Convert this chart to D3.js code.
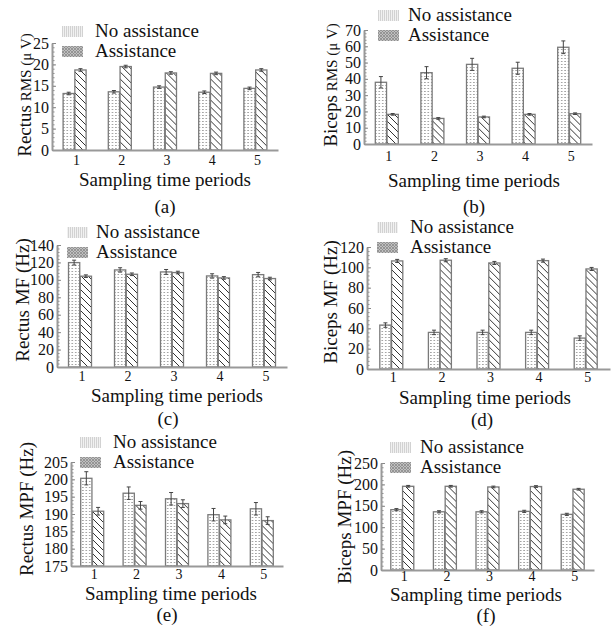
<!DOCTYPE html>
<html>
<head>
<meta charset="utf-8">
<script src="https://cdn.jsdelivr.net/npm/d3@7"></script>
<style>
  body { margin: 0; background: #fff; }
  svg text { font-family: "Liberation Serif", "Times New Roman", serif; fill: #111; }
</style>
</head>
<body>
<svg id="chart" width="614" height="633"></svg>
<script>
// Shared categories
const periods = ["1", "2", "3", "4", "5"];
const seriesNames = ["No assistance", "Assistance"];

// (a) Rectus RMS (uV)
const rectusRmsNo = [13.2, 13.6, 14.7, 13.5, 14.4];
const rectusRmsNoErr = [0.3, 0.3, 0.3, 0.3, 0.3];
const rectusRmsAs = [18.7, 19.5, 18.0, 17.9, 18.7];
const rectusRmsAsErr = [0.3, 0.3, 0.3, 0.3, 0.3];
const rectusRmsTicks = [0, 5, 10, 15, 20, 25];

// (b) Biceps RMS (uV)
const bicepsRmsNo = [37.9, 43.8, 48.9, 46.5, 59.4];
const bicepsRmsNoErr = [3.5, 3.7, 3.7, 3.7, 3.9];
const bicepsRmsAs = [18.2, 15.7, 16.6, 18.2, 18.6];
const bicepsRmsAsErr = [0.5, 0.5, 0.5, 0.5, 0.5];
const bicepsRmsTicks = [0, 10, 20, 30, 40, 50, 60, 70];

// (c) Rectus MF (Hz)
const rectusMfNo = [119.8, 111.4, 109.1, 104.5, 106.0];
const rectusMfNoErr = [2.8, 2.5, 2.8, 2.5, 2.5];
const rectusMfAs = [104.2, 106.4, 108.4, 102.2, 101.5];
const rectusMfAsErr = [1.5, 1.5, 1.5, 1.5, 1.5];
const rectusMfTicks = [0, 20, 40, 60, 80, 100, 120, 140];

// (d) Biceps MF (Hz)
const bicepsMfNo = [43.2, 36.0, 36.0, 36.0, 30.4];
const bicepsMfNoErr = [2.2, 2.2, 2.2, 2.2, 2.2];
const bicepsMfAs = [106.3, 107.0, 104.3, 106.6, 98.4];
const bicepsMfAsErr = [1.5, 1.5, 1.5, 1.5, 1.5];
const bicepsMfTicks = [0, 20, 40, 60, 80, 100, 120];

// (e) Rectus MPF (Hz)
const rectusMpfNo = [200.3, 196.0, 194.4, 189.8, 191.5];
const rectusMpfNoErr = [1.9, 1.8, 1.8, 1.8, 1.8];
const rectusMpfAs = [190.8, 192.5, 193.0, 188.3, 188.1];
const rectusMpfAsErr = [1.1, 1.1, 1.1, 1.1, 1.1];
const rectusMpfTicks = [175, 180, 185, 190, 195, 200, 205];

// (f) Biceps MPF (Hz)
const bicepsMpfNo = [141, 136, 136, 137, 130];
const bicepsMpfNoErr = [2.5, 2.5, 2.5, 2.5, 2.5];
const bicepsMpfAs = [195.6, 195.6, 194.0, 195.0, 188.7];
const bicepsMpfAsErr = [2, 2, 2, 2, 2];
const bicepsMpfTicks = [0, 50, 100, 150, 200, 250];

// Panel layout (positions only; values come from the arrays above)
const panels = [
  { cap: "(a)", title: ["Rectus", " RMS (\u03bc V)"], no: rectusRmsNo, noErr: rectusRmsNoErr, as: rectusRmsAs, asErr: rectusRmsAsErr,
    ticks: rectusRmsTicks, left: 52, right: 278, bottom: 150, top: 43, xPad: 5.5, xTitleX: 165, xTitleY: 186, capX: 165, capY: 213,
    titleX: 31, titleY: 95, legX: 62, legY: 26, legGap: 20, legTextX: 95 },
  { cap: "(b)", title: ["Biceps", " RMS (\u03bc V)"], no: bicepsRmsNo, noErr: bicepsRmsNoErr, as: bicepsRmsAs, asErr: bicepsRmsAsErr,
    ticks: bicepsRmsTicks, left: 364, right: 592, bottom: 144, top: 30, xPad: 7, xTitleX: 474, xTitleY: 187, capX: 474, capY: 213,
    titleX: 337, titleY: 85, legX: 378, legY: 10, legGap: 20, legTextX: 408 },
  { cap: "(c)", title: ["Rectus MF (Hz)", ""], no: rectusMfNo, noErr: rectusMfNoErr, as: rectusMfAs, asErr: rectusMfAsErr,
    ticks: rectusMfTicks, left: 57, right: 287, bottom: 367, top: 245, xPad: 4.5, xTitleX: 177, xTitleY: 402, capX: 168, capY: 425,
    titleX: 29, titleY: 300, legX: 67, legY: 227, legGap: 20, legTextX: 96 },
  { cap: "(d)", title: ["Biceps MF (Hz)", ""], no: bicepsMfNo, noErr: bicepsMfNoErr, as: bicepsMfAs, asErr: bicepsMfAsErr,
    ticks: bicepsMfTicks, left: 367, right: 610, bottom: 369, top: 247, xPad: 3, xTitleX: 485, xTitleY: 404, capX: 482, capY: 426,
    titleX: 337, titleY: 302, legX: 377, legY: 222, legGap: 20, legTextX: 410 },
  { cap: "(e)", title: ["Rectus MPF (Hz)", ""], no: rectusMpfNo, noErr: rectusMpfNoErr, as: rectusMpfAs, asErr: rectusMpfAsErr,
    ticks: rectusMpfTicks, left: 71, right: 283, bottom: 566, top: 462, xPad: 3.5, xTitleX: 171, xTitleY: 600, capX: 167, capY: 621,
    titleX: 33, titleY: 509, legX: 80, legY: 437, legGap: 20, legTextX: 113 },
  { cap: "(f)", title: ["Biceps MPF (Hz)", ""], no: bicepsMpfNo, noErr: bicepsMpfNoErr, as: bicepsMpfAs, asErr: bicepsMpfAsErr,
    ticks: bicepsMpfTicks, left: 381, right: 594, bottom: 570, top: 463, xPad: 1, xTitleX: 476, xTitleY: 601, capX: 486, capY: 622,
    titleX: 351, titleY: 517, legX: 390, legY: 442, legGap: 20, legTextX: 420 }
];

const svg = d3.select("#chart");
svg.append("rect").attr("width", 614).attr("height", 633).attr("fill", "#fff");

// Patterns for the bars and the legend swatches
const defs = svg.append("defs");
const dots = defs.append("pattern").attr("id", "dots")
  .attr("patternUnits", "userSpaceOnUse").attr("width", 3.4).attr("height", 3);
dots.append("rect").attr("width", 3.4).attr("height", 3).attr("fill", "#fff");
dots.append("rect").attr("x", 1.2).attr("y", 1).attr("width", 1).attr("height", 1).attr("fill", "#666");

const hatch = defs.append("pattern").attr("id", "hatch")
  .attr("patternUnits", "userSpaceOnUse").attr("width", 7).attr("height", 7);
hatch.append("rect").attr("width", 7).attr("height", 7).attr("fill", "#fff");
hatch.append("path").attr("d", "M-1,-1L8,8M-1,6L1,8M6,-1L8,1")
  .attr("stroke", "#333").attr("stroke-width", 1);

const legNo = defs.append("pattern").attr("id", "legNo")
  .attr("patternUnits", "userSpaceOnUse").attr("width", 2).attr("height", 2);
legNo.append("rect").attr("width", 2).attr("height", 2).attr("fill", "#f1f1f1");
legNo.append("rect").attr("width", 1).attr("height", 2).attr("fill", "#d2d2d2");

const legAs = defs.append("pattern").attr("id", "legAs")
  .attr("patternUnits", "userSpaceOnUse").attr("width", 3).attr("height", 3);
legAs.append("rect").attr("width", 3).attr("height", 3).attr("fill", "#c0c0c0");
legAs.append("path").attr("d", "M0,0L3,3M0,3L3,0").attr("stroke", "#8a8a8a").attr("stroke-width", 0.8);

const fills = { "No assistance": "url(#dots)", "Assistance": "url(#hatch)" };
const legFills = { "No assistance": "url(#legNo)", "Assistance": "url(#legAs)" };

panels.forEach(p => {
  const g = svg.append("g");
  const x = d3.scaleBand().domain(periods).range([p.left, p.right]);
  const half = x.bandwidth() / 2;
  const xs = d3.scaleBand().domain(seriesNames).range([half - 11.5, half + 11.5]).paddingInner(0.045);
  const y = d3.scaleLinear().domain([p.ticks[0], p.ticks[p.ticks.length - 1]]).range([p.bottom, p.top]);

  const rows = periods.map((per, i) => ({
    per,
    vals: [
      { s: seriesNames[0], v: p.no[i], e: p.noErr[i] },
      { s: seriesNames[1], v: p.as[i], e: p.asErr[i] }
    ]
  }));

  const grp = g.selectAll(".grp").data(rows).join("g")
    .attr("transform", d => `translate(${x(d.per)},0)`);

  grp.selectAll("rect").data(d => d.vals).join("rect")
    .attr("x", d => xs(d.s))
    .attr("width", xs.bandwidth())
    .attr("y", d => y(d.v))
    .attr("height", d => y(p.ticks[0]) - y(d.v))
    .attr("fill", d => fills[d.s])
    .attr("stroke", "#7a7a7a")
    .attr("stroke-width", 1.3);

  // error bars
  const eb = grp.selectAll(".eb").data(d => d.vals).join("g")
    .attr("transform", d => `translate(${xs(d.s) + xs.bandwidth() / 2},0)`)
    .attr("stroke", "#444").attr("stroke-width", 1);
  eb.append("line").attr("y1", d => y(d.v - d.e)).attr("y2", d => y(d.v + d.e));
  eb.append("line").attr("x1", -2).attr("x2", 2).attr("y1", d => y(d.v + d.e)).attr("y2", d => y(d.v + d.e));
  eb.append("line").attr("x1", -2).attr("x2", 2).attr("y1", d => y(d.v - d.e)).attr("y2", d => y(d.v - d.e));

  // y axis: labels on the left, ticks pointing inward
  const step = p.ticks[1] - p.ticks[0];
  const minor = d3.range(p.ticks[0], p.ticks[p.ticks.length - 1] + 1e-9, step / 5);
  g.append("g").attr("transform", `translate(${p.left},0)`)
    .call(d3.axisRight(y).tickValues(minor).tickSize(2.5).tickFormat(""))
    .call(a => a.select(".domain").remove())
    .call(a => a.selectAll("line").attr("stroke", "#888"));
  g.append("g").attr("transform", `translate(${p.left},0)`)
    .call(d3.axisRight(y).tickValues(p.ticks).tickSize(4).tickFormat(""))
    .call(a => a.select(".domain").remove())
    .call(a => a.selectAll("line").attr("stroke", "#888"));
  const ya = g.append("g").attr("transform", `translate(${p.left},0)`)
    .call(d3.axisLeft(y).tickValues(p.ticks).tickSize(0).tickSizeOuter(0).tickPadding(3));
  ya.select(".domain").attr("stroke", "#999").attr("stroke-width", 2);
  ya.selectAll("text").attr("font-size", 16).attr("font-family", null);

  // x axis
  const xa = g.append("g").attr("transform", `translate(0,${p.bottom})`)
    .call(d3.axisBottom(x).tickSize(0).tickSizeOuter(0).tickPadding(p.xPad));
  xa.select(".domain").attr("stroke", "#999").attr("stroke-width", 2);
  xa.selectAll("text").attr("font-size", 14).attr("font-family", null).attr("dx", 2);

  // axis titles and caption
  g.append("text").attr("x", p.xTitleX).attr("y", p.xTitleY)
    .attr("text-anchor", "middle").attr("font-size", 19).text("Sampling time periods");
  g.append("text").attr("x", p.capX).attr("y", p.capY)
    .attr("text-anchor", "middle").attr("font-size", 19).text(p.cap);

  const yt = g.append("text")
    .attr("transform", `translate(${p.titleX},${p.titleY}) rotate(-90)`)
    .attr("text-anchor", "middle").attr("font-size", 19);
  yt.append("tspan").text(p.title[0]);
  if (p.title[1]) yt.append("tspan").attr("font-size", 15).text(p.title[1]);

  // legend
  const lg = g.selectAll(".leg").data(seriesNames).join("g")
    .attr("transform", (d, i) => `translate(0,${p.legY + i * p.legGap})`);
  lg.append("rect").attr("x", p.legX).attr("width", 21).attr("height", 11)
    .attr("fill", d => legFills[d]);
  lg.append("text").attr("x", p.legTextX).attr("y", 11).attr("font-size", 19).text(d => d);
});
</script>
</body>
</html>
